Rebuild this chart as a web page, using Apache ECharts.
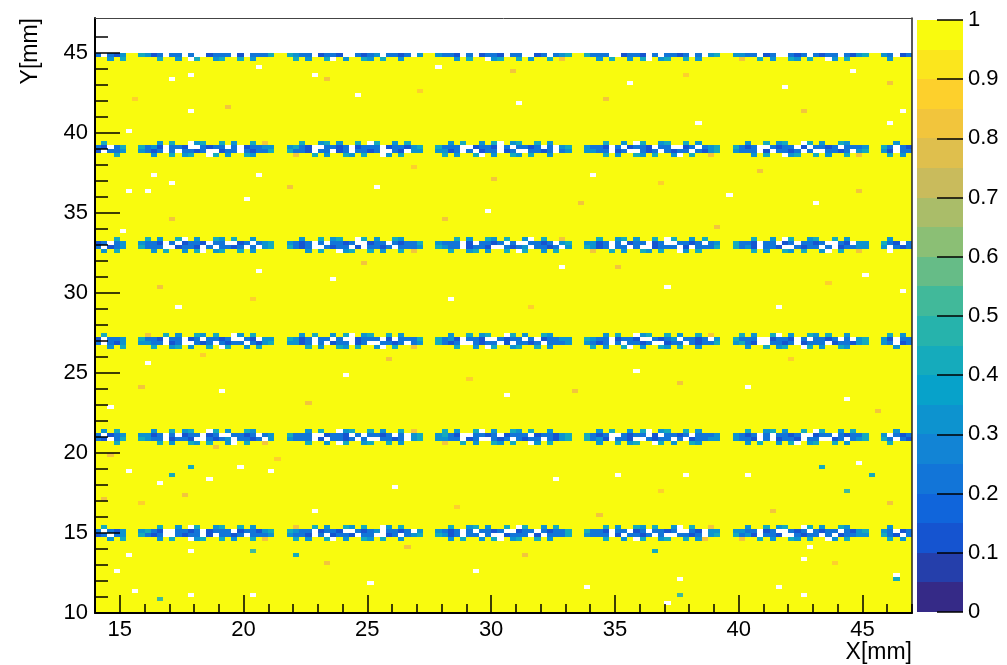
<!DOCTYPE html>
<html>
<head>
<meta charset="utf-8">
<script src="https://cdn.jsdelivr.net/npm/echarts@6/dist/echarts.min.js"></script>
<style>
  html, body { margin: 0; padding: 0; background: #ffffff; }
  #chart { width: 1007px; height: 665px; }
</style>
</head>
<body>
<div id="chart"></div>
<script>
// ---- axis ticks (mm) -------------------------------------------------
const xMajor = [15, 20, 25, 30, 35, 40, 45];
const xMinor = [14, 15, 16, 17, 18, 19, 20, 21, 22, 23, 24, 25, 26, 27, 28, 29, 30,
                31, 32, 33, 34, 35, 36, 37, 38, 39, 40, 41, 42, 43, 44, 45, 46, 47];
const yMajor = [10, 15, 20, 25, 30, 35, 40, 45];
const yMinor = [10, 11, 12, 13, 14, 15, 16, 17, 18, 19, 20, 21, 22, 23, 24, 25, 26, 27,
                28, 29, 30, 31, 32, 33, 34, 35, 36, 37, 38, 39, 40, 41, 42, 43, 44, 45, 46];
const scaleTicks = [0, 0.1, 0.2, 0.3, 0.4, 0.5, 0.6, 0.7, 0.8, 0.9, 1];
const contourEdges = [0, 0.05, 0.1, 0.15, 0.2, 0.25, 0.3, 0.35, 0.4, 0.45, 0.5,
                      0.55, 0.6, 0.65, 0.7, 0.75, 0.8, 0.85, 0.9, 0.95, 1];

// ---- efficiency map -------------------------------------------------
// whole sensitive area is fully efficient
const fullArea = [14, 47, 10, 45, 1];          // x0, x1, y0, y1, efficiency
const binW = 0.25, binH = 0.25;                // mm
// strip pieces along X start here (gaps between pieces are fully efficient)
const pieceStartX = [14.0, 15.75, 21.75, 27.75, 33.75, 39.75, 45.75];
// bin code -> efficiency ('.' = empty bin, '-' = 1)
const binLevel = { '.': null, '0': 0.02, '1': 0.12, '2': 0.22, '3': 0.32, '4': 0.42,
                   '5': 0.52, '6': 0.62, '7': 0.72, '8': 0.82, '9': 0.92 };

// inefficient strips: upper edge (mm) of the first row, rows listed top to bottom
const stripTop = [15.5, 21.5, 27.5, 33.5, 39.5, 45.0];
const strip15 = [
  '-4--- ---4--3-.4--34--4-3--- -8--4-3--43-4--.3-4--- --4--34-3--4-.4--3-4-- ---4-3--43-4--3.-4--8- --3--4-34--.4-3--43--- -3---',
  '2.213 3421..2212.1222.122134 4322.1221..2123.2212.3 3212.2.2212..122.21224 4221.22.12.2212..21.33 3322.12..212.2122.2134 32.12',
  '12.23 4212..2122.1.2212.2223 3221.2.1221.22..12.234 4312.22.2..1222.1.2224 3222.1.2212.2..2212.34 4231.221..2122.2.12233 421.2',
  '--3-4 ---3-4--.34--4-3--4-8- -4-3--4.-3--43-4--3--- --3-4--3-4.-34--4-3--- ---4--3-.4--34--4-3--- -8--4-3--43-4--.3-4--- -4-3-'
];
const strip21 = [
  '-3-4- --3--4-34--.4-3--43--- ---3-4--.34--4-3--4-8- -4-3--4.-3--43-4--3--- --3-4--3-4.-34--4-3--- --4--34-3--4-.4--3-4-- --3--',
  '2.123 3312.2.122.12..2212.23 4222..1221.2.2212.2.34 3421..2212.1222.122134 4212..2122.1.2212.2223 3212.2.2212..122.21224 3.212',
  '21.24 4322.1221..2123.2212.3 3222.1.2212.2..2212.34 3322.12..212.2122.2134 4231.221..2122.2.12233 3221.2.1221.22..12.234 42.21',
  '---4- ---4-3--43-4--3.-4--8- ---4--3-.4--34--4-3--- -8--4-3--43-4--.3-4--- --3--4-34--.4-3--43--- --3-4--3-4.-34--4-3--- -4---'
];
const strip27 = [
  '-4--- -8--4-3--43-4--.3-4--- --3-4--3-4.-34--4-3--- --3--4-34--.4-3--43--- ---3-4--.34--4-3--4-8- -4-3--4.-3--43-4--3--- -4-3-',
  '1.223 4221.22.12.2212..21.33 4312.22.2..1222.1.2224 4231.221..2122.2.12233 4322.1221..2123.2212.3 4222..1221.2.2212.2.34 31.22',
  '2.213 3322.12..212.2122.2134 3312.2.122.12..2212.23 4212..2122.1.2212.2223 3212.2.2212..122.21224 3421..2212.1222.122134 32.12',
  '--3-4 --4--34-3--4-.4--3-4-- ---4-3--43-4--3.-4--8- ---4--3-.4--34--4-3--- -4-3--4.-3--43-4--3--- --3--4-34--.4-3--43--- --3--'
];
const strip33 = [
  '---4- -4-3--4.-3--43-4--3--- --3--4-34--.4-3--43--- ---4-3--43-4--3.-4--8- --4--34-3--4-.4--3-4-- ---4--3-.4--34--4-3--- -3---',
  '12.23 3221.2.1221.22..12.234 3212.2.2212..122.21224 3222.1.2212.2..2212.34 3312.2.122.12..2212.23 4221.22.12.2212..21.33 421.2',
  '2.123 4222..1221.2.2212.2.34 4212..2122.1.2212.2223 4322.1221..2123.2212.3 4312.22.2..1222.1.2224 4231.221..2122.2.12233 3.212',
  '-3-4- --3-4--3-4.-34--4-3--- ---3-4--.34--4-3--4-8- --4--34-3--4-.4--3-4-- -8--4-3--43-4--.3-4--- ---4-3--43-4--3.-4--8- -4---'
];
const strip39 = [
  '-4--- ---3-4--.34--4-3--4-8- --4--34-3--4-.4--3-4-- --3-4--3-4.-34--4-3--- ---4--3-.4--34--4-3--- --3--4-34--.4-3--43--- --3--',
  '21.24 4231.221..2122.2.12233 3421..2212.1222.122134 4222..1221.2.2212.2.34 3221.2.1221.22..12.234 4212..2122.1.2212.2223 42.21',
  '1.223 3212.2.2212..122.21224 4221.22.12.2212..21.33 3312.2.122.12..2212.23 3322.12..212.2122.2134 3222.1.2212.2..2212.34 31.22',
  '---4- --3--4-34--.4-3--43--- -8--4-3--43-4--.3-4--- -4-3--4.-3--43-4--3--- ---4-3--43-4--3.-4--8- ---3-4--.34--4-3--4-8- -4-3-'
];
const strip45 = [
  '2.213 4312.22.2..1222.1.2224 4322.1221..2123.2212.3 3221.2.1221.22..12.234 4222..1221.2.2212.2.34 3322.12..212.2122.2134 32.12',
  '--3-4 ---4--3-.4--34--4-3--- -4-3--4.-3--43-4--3--- ---3-4--.34--4-3--4-8- --3-4--3-4.-34--4-3--- -8--4-3--43-4--.3-4--- -3---'
];
const strips = [strip15, strip21, strip27, strip33, strip39, strip45];

// isolated bins in the efficient area: [x, y, efficiency] (null = empty bin)
const emptyBins = [
  [17.9, 43.7], [17.15, 43.3], [20.5, 44.0], [22.8, 43.6], [15.4, 40.0], [17.9, 41.4],
  [20.1, 35.95], [16.1, 36.3], [15.3, 36.3], [17.2, 36.9], [20.5, 37.3], [16.3, 37.4],
  [15.4, 18.8], [19.9, 19.2], [17.8, 13.8], [15.3, 13.7], [14.9, 12.7], [18.6, 18.3],
  [21.2, 18.8], [15.6, 11.3], [17.8, 11.1], [20.4, 11.2], [16.6, 18.0], [35.2, 18.7],
  [37.9, 18.7], [40.3, 18.7], [42.8, 14.1], [42.6, 13.4], [41.7, 11.6], [42.7, 11.2],
  [44.8, 19.4], [37.5, 12.2], [37.1, 10.6], [46.4, 12.4], [46.2, 40.6], [46.6, 41.4],
  [46.6, 30.1], [46.0, 32.5], [24.6, 42.3], [27.9, 44.1], [31.2, 41.8], [35.6, 43.2],
  [38.4, 40.7], [41.9, 42.9], [44.7, 43.8], [25.3, 36.5], [29.8, 35.2], [34.1, 37.4],
  [39.6, 36.1], [43.2, 35.6], [23.7, 30.8], [28.4, 29.6], [32.9, 31.7], [37.2, 30.3],
  [41.5, 29.1], [45.1, 31.2], [24.1, 24.8], [30.6, 23.7], [35.8, 25.2], [40.4, 24.1],
  [44.3, 23.4], [26.2, 17.9], [29.4, 12.6], [32.7, 18.3], [33.8, 11.7], [25.1, 11.9],
  [22.9, 16.4], [19.2, 23.9], [17.3, 29.2], [16.1, 25.6], [20.7, 31.4], [14.6, 22.8],
  [15.2, 33.8]
];
const lowBins = [
  [14.4, 17.2, 0.82], [14.7, 19.8, 0.82], [15.9, 16.8, 0.88], [17.6, 17.4, 0.82],
  [18.8, 20.3, 0.82], [21.4, 19.6, 0.88], [23.3, 13.2, 0.82], [26.7, 14.2, 0.82],
  [28.6, 16.7, 0.88], [31.4, 13.6, 0.82], [34.4, 16.1, 0.82], [36.9, 17.6, 0.88],
  [38.6, 14.6, 0.82], [41.3, 16.4, 0.82], [43.9, 13.1, 0.88], [46.2, 16.9, 0.82],
  [15.8, 24.1, 0.82], [18.3, 26.2, 0.88], [22.6, 23.2, 0.82], [25.8, 25.9, 0.82],
  [29.1, 24.6, 0.88], [33.3, 23.9, 0.82], [37.7, 24.4, 0.82], [42.1, 25.8, 0.88],
  [45.6, 22.7, 0.82], [16.7, 30.4, 0.82], [20.3, 29.7, 0.88], [24.9, 31.9, 0.82],
  [28.1, 34.6, 0.82], [31.7, 29.1, 0.88], [35.1, 31.6, 0.82], [39.1, 34.1, 0.82],
  [43.6, 30.7, 0.88], [17.1, 34.7, 0.82], [21.8, 36.6, 0.82], [26.9, 37.9, 0.88],
  [30.2, 37.2, 0.82], [33.7, 35.7, 0.82], [36.9, 36.9, 0.88], [40.8, 37.6, 0.82],
  [44.9, 36.3, 0.82], [15.6, 42.2, 0.88], [19.4, 41.7, 0.82], [23.4, 43.4, 0.82],
  [27.1, 42.6, 0.88], [30.8, 43.8, 0.82], [34.6, 42.1, 0.82], [37.9, 43.6, 0.88],
  [42.7, 41.3, 0.82], [46.1, 43.1, 0.82],
  [17.1, 18.7, 0.42], [17.8, 19.2, 0.42], [20.4, 13.8, 0.52], [22.1, 13.6, 0.42],
  [16.7, 10.9, 0.52], [43.4, 19.2, 0.42], [44.4, 17.5, 0.52], [45.3, 18.7, 0.42],
  [36.5, 13.8, 0.42], [37.6, 11.2, 0.52], [46.3, 12.2, 0.42]
];

// ---- build bin list --------------------------------------------------
const mapCells = [fullArea];
strips.forEach((rows, s) => {
  rows.forEach((row, j) => {
    const y0 = stripTop[s] - (j + 1) * binH;
    row.split(' ').forEach((piece, k) => {
      for (let i = 0; i < piece.length; i++) {
        const c = piece[i];
        if (c === '-') continue;
        const x0 = pieceStartX[k] + i * binW;
        mapCells.push([x0, x0 + binW, y0, y0 + binH, binLevel[c]]);
      }
    });
  });
});
function binOf(x, y, v) {
  const x0 = 14 + Math.floor((x - 14) / binW) * binW;
  const y0 = 10 + Math.floor((y - 10) / binH) * binH;
  return [x0, x0 + binW, y0, y0 + binH, v];
}
emptyBins.forEach(p => mapCells.push(binOf(p[0], p[1], null)));
lowBins.forEach(p => mapCells.push(binOf(p[0], p[1], p[2])));

// colour scale boxes
const scaleCells = contourEdges.slice(0, -1).map((lo, i) =>
  [0, 1, lo, contourEdges[i + 1], (lo + contourEdges[i + 1]) / 2]);

// ---- palette (bird) -------------------------------------------------
const birdStops = [0, 0.125, 0.25, 0.375, 0.5, 0.625, 0.75, 0.875, 1];
const birdR = [0.2082, 0.0592, 0.0780, 0.0232, 0.1802, 0.5301, 0.8186, 0.9956, 0.9764];
const birdG = [0.1664, 0.3599, 0.5041, 0.6419, 0.7178, 0.7492, 0.7328, 0.7862, 0.9832];
const birdB = [0.5293, 0.8684, 0.8385, 0.7914, 0.6425, 0.4662, 0.3499, 0.1968, 0.0539];
function bird(t) {
  let k = 0;
  while (k < birdStops.length - 2 && t > birdStops[k + 1]) k++;
  const f = (t - birdStops[k]) / (birdStops[k + 1] - birdStops[k]);
  const ch = a => Math.round(255 * (a[k] + (a[k + 1] - a[k]) * f));
  return 'rgb(' + ch(birdR) + ',' + ch(birdG) + ',' + ch(birdB) + ')';
}
const nLevels = contourEdges.length - 1;
const palette = [];
for (let i = 0; i < nLevels; i++) palette.push(bird(i / (nLevels - 1)));
const pieces = palette.map((color, i) => i === nLevels - 1
  ? { gte: contourEdges[i], lte: contourEdges[i + 1], color }
  : { gte: contourEdges[i], lt: contourEdges[i + 1], color });

// ---- drawing ---------------------------------------------------------
const FONT = "'Liberation Sans', Arial, Helvetica, sans-serif";
const tickLine = { color: '#000', width: 1.5 };

function drawBin(params, api) {
  const a = api.coord([api.value(0), api.value(3)]);
  const b = api.coord([api.value(1), api.value(2)]);
  const v = api.value(4);
  const x = Math.round(a[0]), y = Math.round(a[1]);
  const empty = v == null || isNaN(v);
  return {
    type: 'rect',
    shape: { x: x, y: y, width: Math.round(b[0]) - x, height: Math.round(b[1]) - y },
    style: { fill: empty ? '#ffffff' : api.visual('color') }
  };
}

const chart = echarts.init(document.getElementById('chart'), null, { renderer: 'canvas' });
chart.setOption({
  animation: false,
  backgroundColor: '#ffffff',
  grid: [
    { left: 95, top: 18, width: 817, height: 595, outerBoundsMode: 'none', containLabel: false },
    { left: 917, top: 20, width: 46, height: 592, outerBoundsMode: 'none', containLabel: false }
  ],
  xAxis: [
    { gridIndex: 0, type: 'value', min: 14, max: 47, position: 'bottom', z: 10,
      axisLine: { show: true, onZero: false, lineStyle: { color: '#000', width: 2 } },
      axisTick: { show: true, inside: true, length: 18, customValues: xMajor, lineStyle: tickLine },
      axisLabel: { show: true, customValues: xMajor, margin: 6, fontSize: 22, color: '#000', fontFamily: FONT },
      splitLine: { show: false } },
    { gridIndex: 0, type: 'value', min: 14, max: 47, position: 'bottom', z: 10,
      axisLine: { show: false },
      axisTick: { show: true, inside: true, length: 9, customValues: xMinor, lineStyle: tickLine },
      axisLabel: { show: false }, splitLine: { show: false } },
    { gridIndex: 0, type: 'value', min: 14, max: 47, position: 'top', z: 10,
      axisLine: { show: true, onZero: false, lineStyle: { color: '#444', width: 1 } },
      axisTick: { show: false }, axisLabel: { show: false }, splitLine: { show: false } },
    { gridIndex: 1, type: 'value', min: 0, max: 1, show: false }
  ],
  yAxis: [
    { gridIndex: 0, type: 'value', min: 10, max: 47.2, position: 'left', z: 10,
      axisLine: { show: true, onZero: false, lineStyle: { color: '#000', width: 2 } },
      axisTick: { show: true, inside: true, length: 25, customValues: yMajor, lineStyle: tickLine },
      axisLabel: { show: true, customValues: yMajor, margin: 7, fontSize: 22, color: '#000', fontFamily: FONT },
      splitLine: { show: false } },
    { gridIndex: 0, type: 'value', min: 10, max: 47.2, position: 'left', z: 10,
      axisLine: { show: false },
      axisTick: { show: true, inside: true, length: 13, customValues: yMinor, lineStyle: tickLine },
      axisLabel: { show: false }, splitLine: { show: false } },
    { gridIndex: 0, type: 'value', min: 10, max: 47.2, position: 'right', z: 10,
      axisLine: { show: true, onZero: false, lineStyle: { color: '#222', width: 1.5 } },
      axisTick: { show: false }, axisLabel: { show: false }, splitLine: { show: false } },
    // colour scale labels
    { gridIndex: 1, type: 'value', min: 0, max: 1, position: 'right', z: 10,
      axisLine: { show: false }, axisTick: { show: false },
      axisLabel: { show: true, customValues: scaleTicks, margin: 5, fontSize: 22, color: '#000', fontFamily: FONT,
                   formatter: v => (v === 0 ? '0' : v === 1 ? '1' : v.toFixed(1)) },
      splitLine: { show: false } },
    // colour scale ticks, drawn on the right part of the boxes
    { gridIndex: 1, type: 'value', min: 0, max: 1, position: 'left', offset: -46, z: 10,
      axisLine: { show: false },
      axisTick: { show: true, inside: false, length: 26, customValues: scaleTicks, lineStyle: tickLine },
      axisLabel: { show: false }, splitLine: { show: false } }
  ],
  visualMap: {
    type: 'piecewise', show: false, seriesIndex: [0, 1], dimension: 4,
    pieces: pieces, outOfRange: { color: '#ffffff' }
  },
  series: [
    { type: 'custom', name: 'efficiency', coordinateSystem: 'cartesian2d',
      xAxisIndex: 0, yAxisIndex: 0, data: mapCells, encode: { x: [0, 1], y: [2, 3] },
      renderItem: drawBin, z: 1, silent: true, progressive: 0, clip: true },
    { type: 'custom', name: 'scale', coordinateSystem: 'cartesian2d',
      xAxisIndex: 3, yAxisIndex: 3, data: scaleCells, encode: { x: [0, 1], y: [2, 3] },
      renderItem: drawBin, z: 1, silent: true }
  ],
  graphic: [
    { type: 'text', x: 31, y: 18, rotation: Math.PI / 2, z: 100,
      style: { text: 'Y[mm]', fontSize: 23, fontFamily: FONT, fill: '#000',
               align: 'right', verticalAlign: 'middle', textAlign: 'right', textVerticalAlign: 'middle' } },
    { type: 'text', x: 912, y: 653, z: 100,
      style: { text: 'X[mm]', fontSize: 23, fontFamily: FONT, fill: '#000',
               align: 'right', verticalAlign: 'middle', textAlign: 'right', textVerticalAlign: 'middle' } }
  ]
});
</script>
</body>
</html>
